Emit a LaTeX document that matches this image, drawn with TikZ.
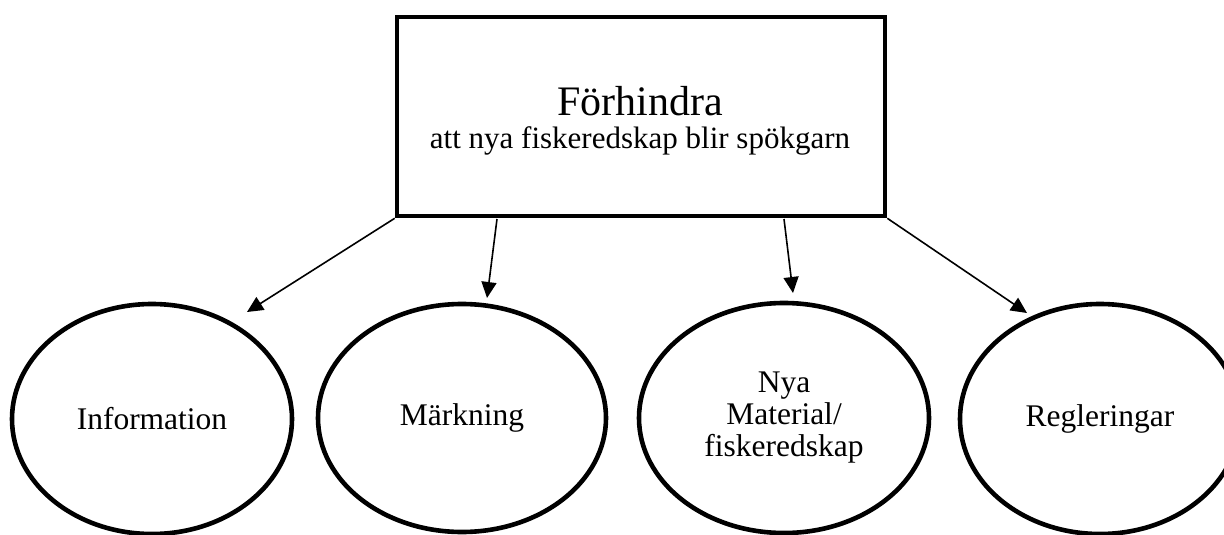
\documentclass[tikz,border=0pt]{standalone}
\usepackage{fontspec}
\setmainfont{Liberation Serif}
\usetikzlibrary{shapes.geometric,arrows.meta}
\begin{document}
\begin{tikzpicture}[x=1pt,y=-1pt,
  goal/.style={draw,line width=4.6pt,minimum width=488pt,minimum height=199pt,inner sep=0pt},
  oval/.style={ellipse,draw,line width=4.6pt,inner sep=0pt,align=center,font=\fontsize{31.5}{32}\selectfont},
  bigtxt/.style={anchor=base,inner sep=0pt,font=\fontsize{42}{44}\selectfont},
  smalltxt/.style={anchor=base,inner sep=0pt,font=\fontsize{31}{32}\selectfont},
  link/.style={line width=1.6pt,-{Triangle[length=16pt,width=15pt]}}]
\clip (0,0) rectangle (1224,535);
\fill[white] (0,0) rectangle (1224,535);
\node[goal] (box) at (641,116.5) {};
\node[bigtxt] (title) at (640,115) {Förhindra};
\node[smalltxt] (sub) at (640,148) {att nya fiskeredskap blir spökgarn};
\node[oval,minimum width=280pt,minimum height=230pt] (info) at (152,419) {Information};
\node[oval,minimum width=288pt,minimum height=228pt] (mark) at (462,418) {Märkning};
\node[oval,minimum width=290pt,minimum height=230pt] (mat) at (784,418) {Nya\\Material/\\fiskeredskap};
\node[oval,minimum width=280pt,minimum height=230pt] (reg) at (1100,419) {Regleringar};
\coordinate (s2) at (497,219);
\coordinate (s3) at (784,219);
\coordinate (t1) at (247,312);
\coordinate (t2) at (487,298);
\coordinate (t3) at (793,293);
\coordinate (t4) at (1027,313);
\draw[link] (box.south west) -- (t1);
\draw[link] (s2) -- (t2);
\draw[link] (s3) -- (t3);
\draw[link] (box.south east) -- (t4);
\end{tikzpicture}
\end{document}
